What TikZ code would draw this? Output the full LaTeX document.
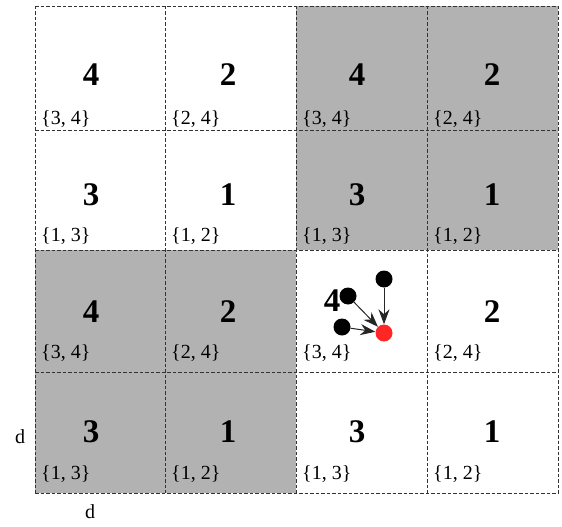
\documentclass[tikz,border=0pt]{standalone}
\usepackage{fontspec}
\setmainfont{Liberation Serif}
\usetikzlibrary{arrows.meta}
\begin{document}
\begin{tikzpicture}[x=1pt,y=-1pt,
  gridline/.style={draw=black!80,dash pattern=on 3.5pt off 2pt,line width=0.8pt},
  shaded/.style={fill=black!30},
  bignum/.style={font=\fontsize{33}{33}\selectfont\bfseries,inner sep=0pt},
  setlab/.style={font=\fontsize{20}{20}\selectfont,inner sep=0pt,anchor=west},
  dot/.style={circle,fill=black,minimum size=17pt,inner sep=0pt},
  reddot/.style={circle,fill=red!85!white,minimum size=17pt,inner sep=0pt},
  arr/.style={-{Stealth[length=15pt,width=11pt]},line width=1pt,black!85}]
\useasboundingbox (0,0) rectangle (562,527);
% shaded cells
\fill[shaded] (296,6) rectangle (558,250);
\fill[shaded] (35,250) rectangle (296,493);
% grid lines
\foreach \x in {35,165,296,427,558} \draw[gridline] (\x,6) -- (\x,493);
\foreach \y in {6,130,250,372,493} \draw[gridline] (35,\y) -- (558,\y);
% row 1
\node[bignum] (n11) at (91,75) {4};
\node[bignum] (n12) at (228,75) {2};
\node[bignum] (n13) at (357,75) {4};
\node[bignum] (n14) at (492,75) {2};
\node[setlab] (l11) at (41,119) {\{3, 4\}};
\node[setlab] (l12) at (171,119) {\{2, 4\}};
\node[setlab] (l13) at (302,119) {\{3, 4\}};
\node[setlab] (l14) at (433,119) {\{2, 4\}};
% row 2
\node[bignum] (n21) at (91,195) {3};
\node[bignum] (n22) at (228,195) {1};
\node[bignum] (n23) at (357,195) {3};
\node[bignum] (n24) at (492,195) {1};
\node[setlab] (l21) at (41,236) {\{1, 3\}};
\node[setlab] (l22) at (171,236) {\{1, 2\}};
\node[setlab] (l23) at (302,236) {\{1, 3\}};
\node[setlab] (l24) at (433,236) {\{1, 2\}};
% row 3
\node[bignum] (n31) at (91,312) {4};
\node[bignum] (n32) at (228,312) {2};
\node[bignum] (n33) at (332,301) {4};
\node[bignum] (n34) at (492,312) {2};
\node[setlab] (l31) at (41,353) {\{3, 4\}};
\node[setlab] (l32) at (171,353) {\{2, 4\}};
\node[setlab] (l33) at (302,353) {\{3, 4\}};
\node[setlab] (l34) at (433,353) {\{2, 4\}};
% row 4
\node[bignum] (n41) at (91,432) {3};
\node[bignum] (n42) at (228,432) {1};
\node[bignum] (n43) at (357,432) {3};
\node[bignum] (n44) at (492,432) {1};
\node[setlab] (l41) at (41,474) {\{1, 3\}};
\node[setlab] (l42) at (171,474) {\{1, 2\}};
\node[setlab] (l43) at (302,474) {\{1, 3\}};
\node[setlab] (l44) at (433,474) {\{1, 2\}};
% dots and arrows
\node[dot] (da) at (384,279) {};
\node[dot] (db) at (348,296) {};
\node[dot] (dc) at (342,327) {};
\node[reddot] (dr) at (384,333) {};
\draw[arr] (da) -- (dr);
\draw[arr] (db) -- (dr);
\draw[arr] (dc) -- (dr);
% axis labels
\node[font=\fontsize{20}{20}\selectfont,inner sep=0pt] (dl) at (20,437) {d};
\node[font=\fontsize{20}{20}\selectfont,inner sep=0pt] (dbtm) at (90,512) {d};
\end{tikzpicture}
\end{document}
